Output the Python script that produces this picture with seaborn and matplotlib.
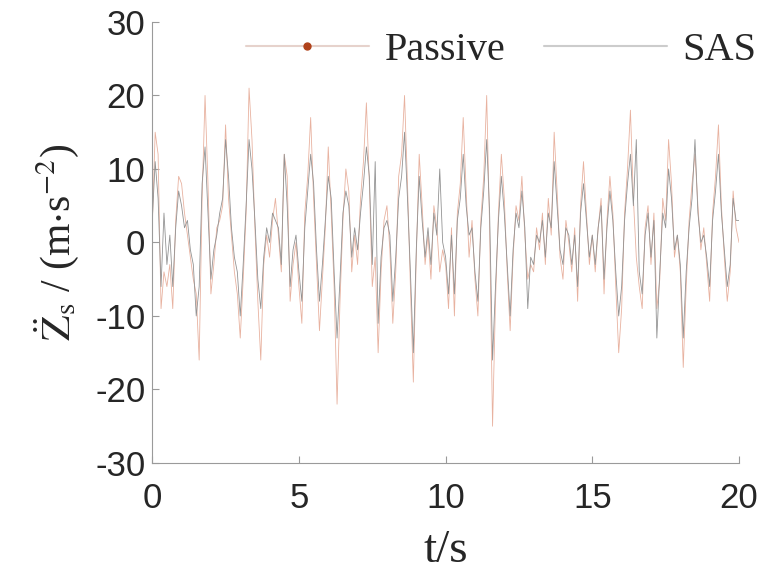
import numpy as np
import pandas as pd
import matplotlib
matplotlib.use("Agg")
import matplotlib.pyplot as plt
from matplotlib.lines import Line2D
import seaborn as sns

# time axis, sampled every 0.1 s
time_s = [round(0.1 * i, 1) for i in range(201)]

# passive suspension body acceleration (m/s^2)
passive = [
    2, 15, 12, -9, -4, -6, -3, -9, 3, 9,
    8, 4, 1, -2, -5, -7, -16, 6, 20, 8,
    -7, -3, 2, 3, 5, 16, 6, 1, -4, -7,
    -13, -5, 4, 21, 14, 2, -8, -16, -3, 1,
    -2, 3, 6, 1, -4, 12, 9, -8, -3, 0,
    -6, -11, 4, 9, 17, 6, -3, -12, -5, 2,
    13, 4, -6, -22, -8, 3, 10, 7, -4, 1,
    -3, 6, 11, 19, 8, -6, -2, -15, -4, 3,
    5, -1, -11, -4, 9, 12, 20, 8, -6, -19,
    -2, 12, 5, -3, 1, -5, 5, 2, -4, -1,
    -3, -9, 2, -10, 4, 8, 17, 7, -2, 3,
    -5, -10, 3, 9, 20, 2, -25, -8, 4, 12,
    6, -4, -12, -2, 5, 3, 9, 1, -5, -3,
    -4, 2, -1, 4, -3, 6, 1, 15, 7, -2,
    -5, 3, 0, -4, 2, -8, 5, 11, 4, -3,
    1, -4, 2, 6, -7, 3, 9, 4, -6, -15,
    -9, 4, 10, 18, 6, -2, -6, -9, 2, 5,
    -3, 4, -9, -5, 6, 3, 14, 8, -2, 1,
    -4, -17, -6, 3, 8, 12, 5, -1, 2, -3,
    -8, 4, 9, 16, 5, -2, -8, -4, 7, 2,
    0,
]

# SAS (semi-active) suspension body acceleration
sas = [
    3, 11, 6, -6, 4, -3, 1, -6, 2, 7,
    5, 2, 3, -1, -3, -10, -6, 8, 13, 4,
    -5, -1, 1, 4, 6, 14, 9, 2, -2, -4,
    -10, -3, 5, 14, 10, 3, -5, -9, -2, 2,
    0, 4, 3, 2, -3, 12, 5, -6, -1, 1,
    -4, -8, 2, 7, 12, 8, -1, -8, -3, 3,
    9, 6, -4, -13, -5, 4, 7, 5, -2, 2,
    -1, 4, 8, 13, 9, -3, 11, -11, -2, 2,
    3, 1, -8, -2, 6, 9, 15, 6, -4, -15,
    -1, 9, 3, -2, 2, -3, 4, 1, 10, 0,
    -2, -7, 1, -7, 3, 6, 12, 5, 1, 2,
    -4, -8, 2, 7, 14, 4, -16, -6, 3, 9,
    4, -3, -10, -1, 4, 2, 7, 2, -9, -2,
    -3, 1, 0, 3, -2, 4, 2, 11, 5, -1,
    -3, 2, 1, -3, 1, -6, 4, 8, 3, -2,
    1, -3, 2, 5, -5, 2, 7, 3, -4, -10,
    -6, 3, 8, 12, 5, 14, -4, -7, 1, 4,
    -2, 3, -13, -4, 4, 2, 10, 6, -1, 1,
    -3, -13, -4, 2, 6, 14, 4, 0, 1, -2,
    -6, 3, 7, 12, 4, -1, -6, -3, 6, 3,
    3,
]

series_names = ["Passive", "SAS"]
line_colors = {"Passive": "#e8b2a0", "SAS": "#939393"}

df = pd.DataFrame({
    "t": time_s * 2,
    "acc": passive + sas,
    "series": ["Passive"] * len(passive) + ["SAS"] * len(sas),
})

sns.set_style("white")
plt.rcParams["axes.unicode_minus"] = False
plt.rcParams["mathtext.fontset"] = "stix"

fig = plt.figure(figsize=(7.65, 5.78), dpi=100)
ax = fig.add_axes([0.199, 0.199, 0.767, 0.763])

sns.lineplot(data=df, x="t", y="acc", hue="series", hue_order=series_names,
             palette=line_colors, linewidth=0.6, legend=False, ax=ax)

ax.set_xlim(0, 20)
ax.set_ylim(-30, 30)
ax.set_xticks([0, 5, 10, 15, 20])
ax.set_yticks([-30, -20, -10, 0, 10, 20, 30])

for side in ["top", "right"]:
    ax.spines[side].set_visible(False)
for side in ["left", "bottom"]:
    ax.spines[side].set_color("#9a9a9a")
    ax.spines[side].set_linewidth(0.8)

ax.tick_params(bottom=True, left=True, direction="in", length=5, width=0.8,
               color="#9a9a9a", labelsize=25)
ax.tick_params(axis="x", pad=14)
ax.tick_params(axis="y", pad=5)
for lab in ax.get_xticklabels() + ax.get_yticklabels():
    lab.set_family("Liberation Sans")

ax.set_xlabel("t/s", family="Liberation Serif", fontsize=34, labelpad=10)
ax.set_ylabel(r"$\ddot{\mathrm{Z}}_{\mathrm{s}}$ / (m$\cdot$s$^{-2}$)",
              family="Liberation Serif", fontsize=30, labelpad=10)

# legend styled like the original MATLAB export
handles = [
    Line2D([], [], color="#e6d2cc", lw=1.5, marker="o", markersize=5,
           markerfacecolor="#b0421a", markeredgecolor="#b0421a"),
    Line2D([], [], color="#cccccc", lw=1.5),
]
ax.legend(handles, series_names, loc="upper right", ncol=2, frameon=False,
          bbox_to_anchor=(1.092, 1.06), handlelength=3.05, handletextpad=0.4,
          columnspacing=0.95, prop={"family": "Liberation Serif", "size": 29})

fig.savefig("out.png", dpi=100)
plt.close(fig)
